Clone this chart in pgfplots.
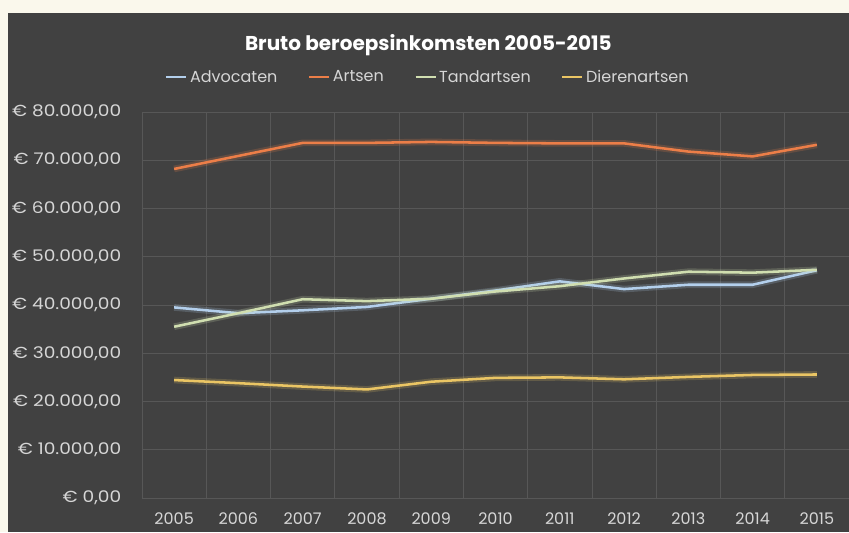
\documentclass[border=0pt]{standalone}
\usepackage{pgfplots}
\pgfplotsset{compat=1.18}
\usepackage{fontspec}
\setmainfont{Poppins}
\newfontfamily\tickfont{Poppins}[FakeStretch=1.16]

\definecolor{cream}{HTML}{FAF8EC}
\definecolor{panel}{HTML}{414141}
\definecolor{gridc}{HTML}{575757}
\definecolor{txt}{HTML}{D6D6D6}
\definecolor{advo}{HTML}{B3CFEC}
\definecolor{arts}{HTML}{EC7E48}
\definecolor{tand}{HTML}{D0DEB0}
\definecolor{dier}{HTML}{EAC564}

\begin{document}
\begin{tikzpicture}
% page: 849 x 532 px, 1 px = 0.75pt
\fill[cream] (0,0) rectangle (636.75pt,399pt);
\fill[panel] (6pt,0) rectangle (636.75pt,389.25pt);
\begin{axis}[
  at={(106.5pt,25.5pt)}, anchor=south west,
  scale only axis,
  width=530.25pt, height=289.5pt,
  xmin=2004.5, xmax=2015.5,
  ymin=0, ymax=80000,
  xtick={2005,2006,...,2015},
  minor xtick={2004.5,2005.5,...,2015.5},
  ytick={0,10000,...,80000},
  yticklabels={{€ 0,00}, {€ 10.000,00}, {€ 20.000,00}, {€ 30.000,00}, {€ 40.000,00},
    {€ 50.000,00}, {€ 60.000,00}, {€ 70.000,00}, {€ 80.000,00}},
  scaled y ticks=false,
  xminorgrids, ymajorgrids,
  grid style={gridc, line width=0.6pt},
  minor grid style={gridc, line width=0.6pt},
  axis line style={draw=none},
  major tick length=0pt, minor tick length=0pt,
  /pgf/number format/assume math mode=true,
  /pgf/number format/1000 sep={},
  xticklabel style={text=txt, font=\fontsize{12}{14}\selectfont, anchor=base, yshift=-20pt},
  yticklabel style={text=txt, font=\tickfont\fontsize{12}{14}\selectfont, xshift=-12pt},
  title={Bruto beroepsinkomsten 2005-2015},
  title style={at={(0.405,1.152)}, anchor=center, text=white,
    font=\bfseries\fontsize{15}{17}\selectfont},
  legend columns=4,
  legend style={at={(0.405,1.09)}, anchor=center, draw=none, fill=none,
    text=txt, font=\fontsize{12}{14}\selectfont,
    /tikz/every even column/.append style={column sep=21pt}},
  legend image code/.code={\draw[#1, line width=1.5pt] (0pt,0pt) -- (15pt,0pt);},
  every axis plot/.append style={line width=1.9pt, no marks},
]
% Advocaten
\addplot[advo, opacity=0.2, line width=5pt, forget plot] coordinates {
  (2005,39500) (2006,38300) (2007,38900) (2008,39600) (2009,41300) (2010,43000)
  (2011,44900) (2012,43300) (2013,44200) (2014,44200) (2015,47200)};
\addplot[advo] coordinates {
  (2005,39500) (2006,38300) (2007,38900) (2008,39600) (2009,41300) (2010,43000)
  (2011,44900) (2012,43300) (2013,44200) (2014,44200) (2015,47200)};
% Artsen
\addplot[arts, opacity=0.2, line width=5pt, forget plot] coordinates {
  (2005,68200) (2006,70900) (2007,73600) (2008,73600) (2009,73800) (2010,73600)
  (2011,73500) (2012,73500) (2013,71800) (2014,70800) (2015,73200)};
\addplot[arts] coordinates {
  (2005,68200) (2006,70900) (2007,73600) (2008,73600) (2009,73800) (2010,73600)
  (2011,73500) (2012,73500) (2013,71800) (2014,70800) (2015,73200)};
% Tandartsen
\addplot[tand, opacity=0.2, line width=5pt, forget plot] coordinates {
  (2005,35500) (2006,38300) (2007,41200) (2008,40800) (2009,41300) (2010,42800)
  (2011,43900) (2012,45500) (2013,46900) (2014,46700) (2015,47300)};
\addplot[tand] coordinates {
  (2005,35500) (2006,38300) (2007,41200) (2008,40800) (2009,41300) (2010,42800)
  (2011,43900) (2012,45500) (2013,46900) (2014,46700) (2015,47300)};
% Dierenartsen
\addplot[dier, opacity=0.2, line width=5pt, forget plot] coordinates {
  (2005,24450) (2006,23800) (2007,23100) (2008,22500) (2009,24100) (2010,24900)
  (2011,25000) (2012,24600) (2013,25100) (2014,25500) (2015,25600)};
\addplot[dier] coordinates {
  (2005,24450) (2006,23800) (2007,23100) (2008,22500) (2009,24100) (2010,24900)
  (2011,25000) (2012,24600) (2013,25100) (2014,25500) (2015,25600)};
\legend{Advocaten, Artsen, Tandartsen, Dierenartsen}
\end{axis}
\pgfresetboundingbox
\path (0,0) rectangle (636.75pt,399pt);
\end{tikzpicture}
\end{document}
